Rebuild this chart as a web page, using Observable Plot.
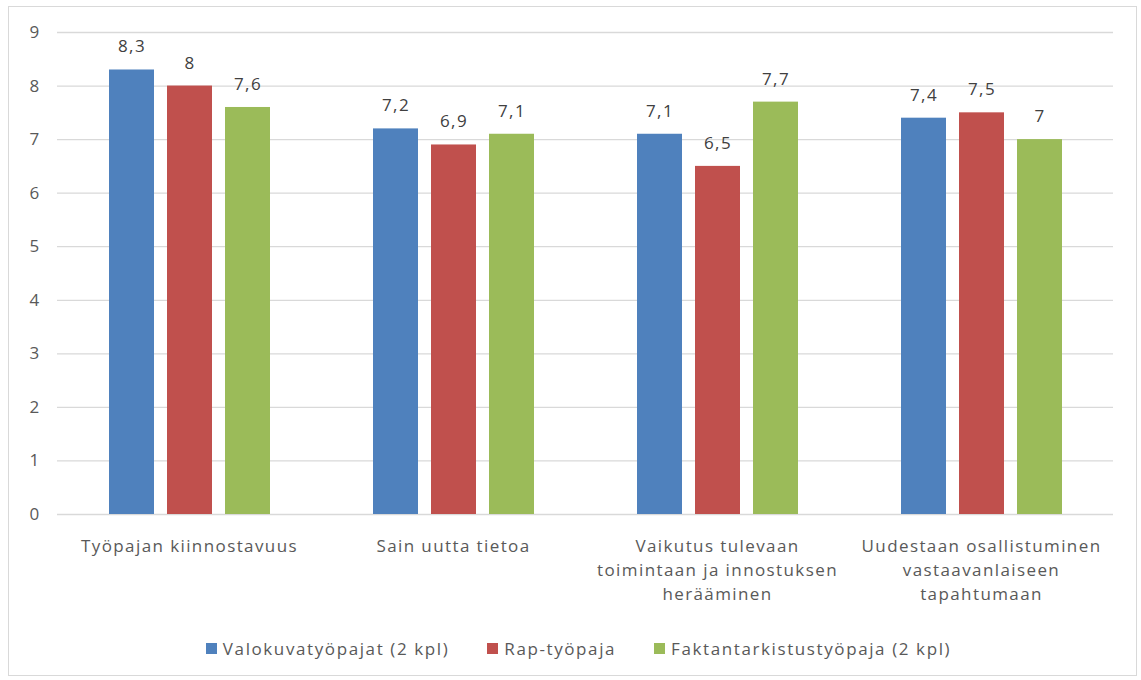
<!DOCTYPE html>
<html><head><meta charset="utf-8">
<script src="https://cdn.jsdelivr.net/npm/d3@7"></script>
<script src="https://cdn.jsdelivr.net/npm/@observablehq/plot@0.6"></script>
<style>
body{margin:0;background:#fff;font-family:"Open Sans",sans-serif;}
#frame{position:absolute;left:8px;top:6px;width:1129px;height:670px;border:1px solid #d9d9d9;box-sizing:border-box;}
#chart{position:absolute;left:0;top:0;}
#chart svg text{letter-spacing:1.4px;}
#legend{position:absolute;top:637px;left:8px;width:1141px;display:flex;justify-content:center;gap:38px;font-size:17px;color:#595959;letter-spacing:1.6px;}
#legend span{display:flex;align-items:center;}
#legend i{display:inline-block;width:11px;height:11px;margin-right:6px;}
</style></head><body>
<div id="frame"></div>
<div id="chart"></div>
<div id="legend"></div>
<script>
const categories = ["Työpajan kiinnostavuus","Sain uutta tietoa","Vaikutus tulevaan toimintaan ja innostuksen herääminen","Uudestaan osallistuminen vastaavanlaiseen tapahtumaan"];
const categoryLabels = ["Työpajan kiinnostavuus","Sain uutta tietoa","Vaikutus tulevaan\ntoimintaan ja innostuksen\nherääminen","Uudestaan osallistuminen\nvastaavanlaiseen\ntapahtumaan"];
const series = ["Valokuvatyöpajat (2 kpl)","Rap-työpaja","Faktantarkistustyöpaja (2 kpl)"];
const colors = ["#4F81BD","#C0504D","#9BBB59"];
const valokuva = [8.3,7.2,7.1,7.4];
const rap = [8.0,6.9,6.5,7.5];
const faktan = [7.6,7.1,7.7,7.0];
const yTicks = [0,1,2,3,4,5,6,7,8,9];

const seriesValues = [valokuva, rap, faktan];
const data = [];
categories.forEach((c,i)=>series.forEach((s,j)=>data.push({category:c, series:s, value:seriesValues[j][i]})));
const fmt = v => String(v).replace(".", ",");

const chart = Plot.plot({
  width:1141, height:630,
  marginLeft:55, marginRight:27, marginTop:32, marginBottom:116,
  style:{fontFamily:"'Open Sans', sans-serif", fontSize:"17px", color:"#595959", background:"transparent"},
  fx:{domain:categories, padding:0, label:null},
  x:{domain:series, paddingInner:0.23, paddingOuter:0.88, axis:null},
  y:{domain:[0,9], label:null},
  color:{domain:series, range:colors},
  marks:[
    Plot.ruleY(yTicks, {y:d=>d, stroke:"#d9d9d9", strokeWidth:1.3}),
    Plot.axisY({ticks:yTicks, tickSize:0, tickPadding:17, label:null, fontSize:17, fill:"#595959", tickFormat:d=>String(d)}),
    Plot.axisFx({anchor:"bottom", tickSize:0, tickPadding:20, label:null, lineHeight:1.42, fontSize:17, fill:"#595959", tickFormat:d=>categoryLabels[categories.indexOf(d)]}),
    Plot.barY(data, {fx:"category", x:"series", y:"value", fill:"series"}),
    Plot.text(data, {fx:"category", x:"series", y:"value", text:d=>fmt(d.value), dy:-23, fontSize:17, fill:"#404040"})
  ]
});
document.getElementById("chart").appendChild(chart);
const lg = document.getElementById("legend");
series.forEach((s,i)=>{const sp=document.createElement("span");sp.innerHTML=`<i style="background:${colors[i]}"></i>${s}`;lg.appendChild(sp);});
</script>
</body></html>
